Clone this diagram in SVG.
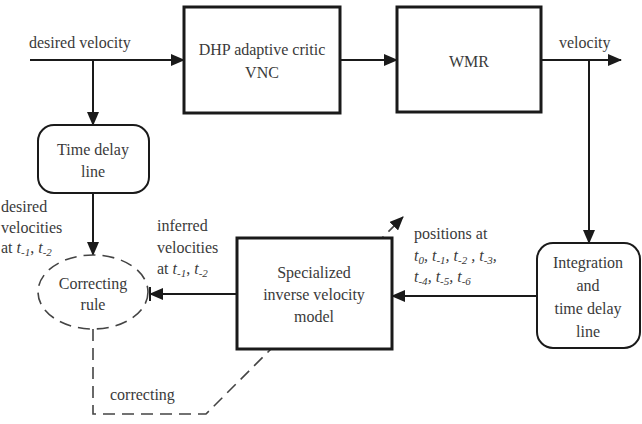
<svg xmlns="http://www.w3.org/2000/svg" width="642" height="424" viewBox="0 0 642 424">
<style>
text{font-family:"Liberation Serif",Tinos,"Times New Roman",Times,"Nimbus Roman","Noto Serif","DejaVu Serif",FreeSerif,serif;font-size:16px;fill:#3a3a3a}
.c{text-anchor:middle}
.it{font-style:italic}
.sub{font-size:11px}
.box{fill:#fff;stroke:#1a1a1a;stroke-width:3}
.rbox{fill:#fff;stroke:#1a1a1a;stroke-width:2}
.ln{fill:none;stroke:#1a1a1a;stroke-width:2}
.dash{fill:none;stroke:#444;stroke-width:1.6;stroke-dasharray:12,7}
</style>
<defs>
<marker id="ah" markerUnits="userSpaceOnUse" markerWidth="14" markerHeight="12" refX="13" refY="6" orient="auto">
<path d="M0,0 L14,6 L0,12 Z" fill="#1a1a1a"/>
</marker>
</defs>
<rect width="642" height="424" fill="#fff"/>
<g id="connectors">
<path class="ln" d="M30,60 H184" marker-end="url(#ah)"/>
<path class="ln" d="M93,60 V125" marker-end="url(#ah)"/>
<path class="ln" d="M340,60 H397" marker-end="url(#ah)"/>
<path class="ln" d="M541,60 H621" marker-end="url(#ah)"/>
<path class="ln" d="M589,60 V243" marker-end="url(#ah)"/>
<path class="ln" d="M93,193 V255" marker-end="url(#ah)"/>
<path class="ln" d="M537,296 H392" marker-end="url(#ah)"/>
<path class="ln" d="M237,294 H150" marker-end="url(#ah)"/>
<path class="ln" d="M150,287 V301"/>
<path class="dash" d="M93,329 V414 H206 L403,217" marker-end="url(#ah)"/>
</g>
<g id="dhp">
<rect class="box" x="184" y="7" width="156" height="106"/>
<text class="c" x="262" y="55">DHP adaptive critic</text>
<text class="c" x="262" y="78">VNC</text>
</g>
<g id="wmr">
<rect class="box" x="397" y="7" width="144" height="105"/>
<text class="c" x="469" y="67">WMR</text>
</g>
<g id="timedelay">
<rect class="rbox" x="38" y="125" width="111" height="68" rx="16"/>
<text class="c" x="93" y="155">Time delay</text>
<text class="c" x="93" y="177">line</text>
</g>
<g id="correcting">
<ellipse cx="93" cy="292" rx="55" ry="37" fill="#fff" stroke="#444" stroke-width="1.6" stroke-dasharray="12,7"/>
<text class="c" x="93" y="289">Correcting</text>
<text class="c" x="93" y="310">rule</text>
</g>
<g id="specialized">
<rect class="box" x="237" y="238" width="155" height="111"/>
<text class="c" x="314" y="278">Specialized</text>
<text class="c" x="314" y="300">inverse velocity</text>
<text class="c" x="314" y="322">model</text>
</g>
<g id="integration">
<rect class="rbox" x="537" y="243" width="103" height="105" rx="16"/>
<text class="c" x="588" y="268">Integration</text>
<text class="c" x="588" y="291">and</text>
<text class="c" x="588" y="314">time delay</text>
<text class="c" x="588" y="337">line</text>
</g>
<g id="labels">
<text x="29" y="48">desired velocity</text>
<text x="559" y="48">velocity</text>
<text x="1" y="212">desired</text>
<text x="1" y="233">velocities</text>
<text x="1" y="253">at <tspan class="it">t</tspan><tspan class="it sub" dy="3">-1</tspan><tspan dy="-3">, </tspan><tspan class="it">t</tspan><tspan class="it sub" dy="3">-2</tspan></text>
<text x="157" y="231">inferred</text>
<text x="157" y="253">velocities</text>
<text x="157" y="274">at <tspan class="it">t</tspan><tspan class="it sub" dy="3">-1</tspan><tspan dy="-3">, </tspan><tspan class="it">t</tspan><tspan class="it sub" dy="3">-2</tspan></text>
<text x="414" y="239">positions at</text>
<text x="414" y="261" class="it">t<tspan class="sub" dy="3">0</tspan><tspan dy="-3">, t</tspan><tspan class="sub" dy="3">-1</tspan><tspan dy="-3">, t</tspan><tspan class="sub" dy="3">-2</tspan><tspan dy="-3"> , t</tspan><tspan class="sub" dy="3">-3</tspan><tspan dy="-3">,</tspan></text>
<text x="414" y="282" class="it">t<tspan class="sub" dy="3">-4</tspan><tspan dy="-3">, t</tspan><tspan class="sub" dy="3">-5</tspan><tspan dy="-3">, t</tspan><tspan class="sub" dy="3">-6</tspan></text>
<text x="110" y="400">correcting</text>
</g>
</svg>
